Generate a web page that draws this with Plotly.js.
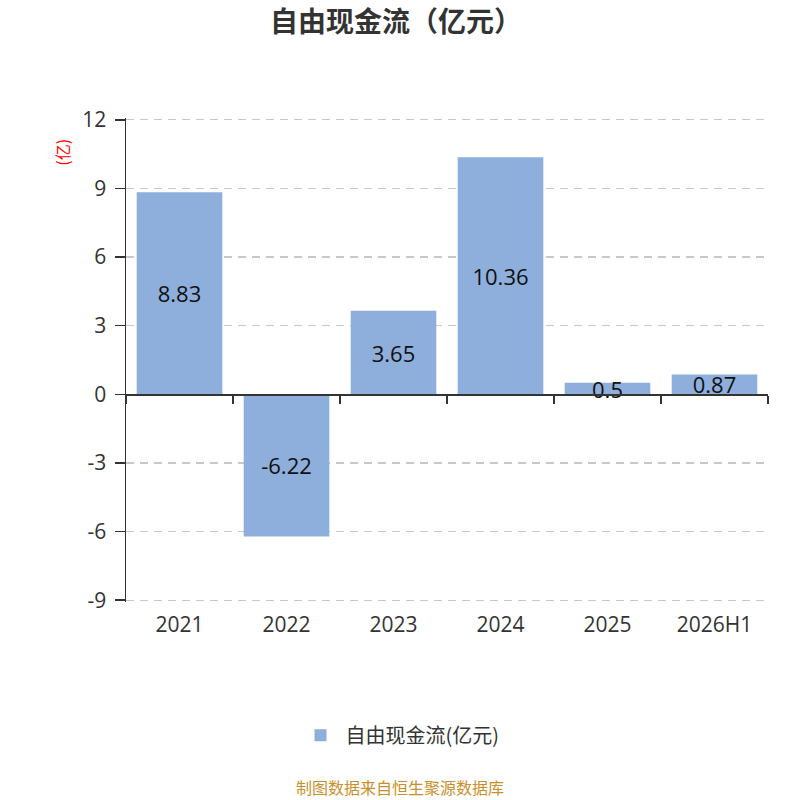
<!DOCTYPE html>
<html>
<head>
<meta charset="utf-8">
<script src="https://cdn.plot.ly/plotly-3.0.1.min.js"></script>
<style>
  html, body { margin: 0; padding: 0; background: #fff; }
  #chart { width: 800px; height: 800px; }
</style>
</head>
<body>
<div id="chart"></div>
<script>
var categories = ['2021', '2022', '2023', '2024', '2025', '2026H1'];
var values = [8.83, -6.22, 3.65, 10.36, 0.5, 0.87];
var seriesName = '自由现金流(亿元)';
var yTicks = [-9, -6, -3, 0, 3, 6, 9, 12];

var yMin = -9, yMax = 12;
var pad = 0.08;
var zeroPos = (0 - (yMin - pad)) / ((yMax + pad) - (yMin - pad));
var cjk = 'Noto Sans CJK SC, Noto Sans, sans-serif';
var latin = 'Open Sans, Noto Sans CJK SC, sans-serif';

var bars = {
  type: 'bar',
  x: categories,
  y: values,
  name: seriesName,
  text: values.map(function(v){ return String(v); }),
  textposition: 'inside',
  insidetextanchor: 'middle',
  textangle: 0,
  constraintext: 'none',
  textfont: {family: latin, size: 22, color: '#111'},
  marker: {color: '#8eaedb'},
  hoverinfo: 'x+y',
  cliponaxis: false
};

// invisible copy that carries the zero-line axis
var zeroAxisCarrier = {
  type: 'bar',
  x: categories,
  y: values,
  xaxis: 'x2',
  opacity: 0,
  showlegend: false,
  hoverinfo: 'skip'
};

var layout = {
  width: 800,
  height: 800,
  paper_bgcolor: '#fff',
  plot_bgcolor: '#fff',
  margin: {l: 126, r: 32, t: 118, b: 198},
  bargap: 0.2,
  showlegend: true,
  font: {family: latin, color: '#333'},
  title: {
    text: '<b>自由现金流（亿元）</b>',
    x: 0.495, xref: 'container', xanchor: 'center',
    y: 0.972, yref: 'container', yanchor: 'middle',
    font: {family: cjk, size: 28, color: '#333'}
  },
  xaxis: {
    type: 'category',
    showline: false,
    showgrid: false,
    zeroline: false,
    ticks: '',
    tickfont: {family: latin, size: 21, color: '#333'},
    ticklabelstandoff: 8
  },
  xaxis2: {
    type: 'category',
    overlaying: 'x',
    matches: 'x',
    anchor: 'free',
    position: zeroPos,
    showline: true,
    linecolor: '#333',
    linewidth: 1.5,
    ticks: 'outside',
    tickson: 'boundaries',
    ticklen: 8,
    tickwidth: 1.5,
    tickcolor: '#333',
    showticklabels: false,
    showgrid: false,
    zeroline: false
  },
  yaxis: {
    range: [yMin - pad, yMax + pad],
    tickvals: yTicks,
    ticktext: yTicks.map(String),
    showline: true,
    linecolor: '#333',
    linewidth: 1.5,
    ticks: 'outside',
    ticklen: 10,
    tickwidth: 1.5,
    tickcolor: '#333',
    tickfont: {family: latin, size: 21, color: '#333'},
    ticklabelstandoff: 4,
    showgrid: true,
    gridcolor: '#c8c8c8',
    griddash: '8px,6px',
    gridwidth: 1.3,
    zeroline: false
  },
  legend: {
    orientation: 'h',
    x: 0.5, xanchor: 'center', xref: 'container',
    y: 0.081, yanchor: 'middle', yref: 'container',
    font: {family: cjk, size: 20, color: '#333'},
    itemwidth: 40
  },
  annotations: [
    {
      text: '(亿)',
      xref: 'paper', yref: 'paper',
      x: -0.1, y: 0.93,
      xanchor: 'center', yanchor: 'middle',
      textangle: -90,
      showarrow: false,
      font: {family: cjk, size: 16, color: '#ff0000'}
    },
    {
      text: '制图数据来自恒生聚源数据库',
      xref: 'paper', yref: 'paper',
      x: 0.427, y: -0.383,
      xanchor: 'center', yanchor: 'middle',
      showarrow: false,
      font: {family: cjk, size: 16, color: '#c8902a'}
    }
  ]
};

Plotly.newPlot('chart', [bars, zeroAxisCarrier], layout, {displayModeBar: false, staticPlot: true});
</script>
</body>
</html>
